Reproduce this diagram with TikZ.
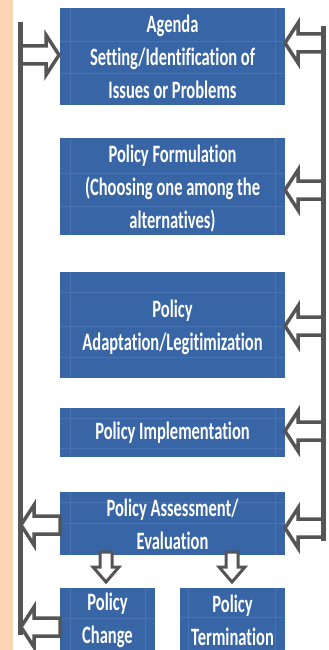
\documentclass[tikz,border=0pt]{standalone}
\usepackage{fontspec}
\setmainfont{Carlito}[FakeStretch=0.66, Ligatures={NoCommon}]
\definecolor{boxblue}{RGB}{56,101,166}
\definecolor{gridblue}{RGB}{72,114,176}
\definecolor{arrgray}{RGB}{85,85,85}
\definecolor{peach}{RGB}{252,213,181}
\tikzset{
  stagebox/.style={fill=none, draw=none, text=white, align=center,
    font=\fontsize{25}{33}\selectfont\bfseries, inner sep=0pt},
  blockarrow/.style={draw=arrgray, fill=white, line width=3.5pt, line join=miter},
  vline/.style={draw=arrgray, line width=5pt},
  gridline/.style={draw=gridblue, line width=0.8pt}
}
\newcommand\harrow[4]{% tip x, tip y, length, direction (1 = points right, -1 = points left)
  \begin{scope}[shift={(#1,#2)},xscale=#4]
    \draw[blockarrow] (0,0) -- (-13,-20) -- (-13,-9) -- (-#3,-9) -- (-#3,9) -- (-13,9) -- (-13,20) -- cycle;
  \end{scope}}
\newcommand\varrow[2]{% tip x, tip y, pointing down
  \begin{scope}[shift={(#1,#2)}]
    \draw[blockarrow, line width=3pt] (0,0) -- (-13,-15) -- (-6,-15) -- (-6,-30) -- (6,-30) -- (6,-15) -- (13,-15) -- cycle;
  \end{scope}}
\begin{document}
\begin{tikzpicture}[x=1pt,y=-1pt]
\useasboundingbox (0,0) rectangle (329,650);
\fill[white] (0,0) rectangle (329,650);
\fill[peach] (0,0) rectangle (13,650);

% stage boxes
\fill[boxblue] (60,8) rectangle (285,105);
\fill[boxblue] (60,138) rectangle (285,235);
\fill[boxblue] (60,272) rectangle (285,378);
\fill[boxblue] (60,408) rectangle (285,457);
\fill[boxblue] (60,492) rectangle (285,555);
\fill[boxblue] (60,588) rectangle (155,650);
\fill[boxblue] (180,588) rectangle (285,650);

% faint inner grid lines
\foreach \ya/\yb in {8/105,138/235,272/378,408/457,492/555}{
  \draw[gridline] (70,\ya) -- (70,\yb);
  \draw[gridline] (275,\ya) -- (275,\yb);
}
\draw[gridline] (60,41) -- (285,41) (60,73) -- (285,73);
\draw[gridline] (60,173) -- (285,173) (60,206) -- (285,206);
\draw[gridline] (60,292) -- (285,292) (60,326) -- (285,326) (60,357) -- (285,357);
\draw[gridline] (60,418) -- (285,418) (60,448) -- (285,448);
\draw[gridline] (60,502) -- (285,502) (60,523) -- (285,523);
\draw[gridline] (70,588) -- (70,650) (145,588) -- (145,650) (60,618) -- (155,618);
\draw[gridline] (188,588) -- (188,650) (275,588) -- (275,650) (180,617) -- (285,617);

\node[stagebox] (agenda) at (172.5,57)
  {Agenda\\Setting/Identification of\\Issues or Problems};
\node[stagebox] (form) at (172.5,189)
  {Policy Formulation\\(Choosing one among the\\alternatives)};
\node[stagebox] (adapt) at (172.5,327)
  {Policy\\Adaptation/Legitimization};
\node[stagebox] (impl) at (172.5,433)
  {Policy Implementation};
\node[stagebox] (assess) at (172.5,524)
  {Policy Assessment/\\Evaluation};
\node[stagebox] (change) at (107.5,620)
  {Policy\\Change};
\node[stagebox] (term) at (232.5,620)
  {Policy\\Termination};

% right side feedback arrows
\harrow{285}{43}{38}{-1}
\harrow{285}{190}{38}{-1}
\harrow{285}{326}{38}{-1}
\harrow{285}{431}{38}{-1}
\harrow{285}{528}{38}{-1}

% left side arrows
\harrow{59}{55}{39}{1}
\harrow{21}{525}{39}{-1}
\harrow{21}{627}{39}{-1}

% down arrows from assessment
\varrow{106}{582}
\varrow{232}{582}

% vertical lines
\coordinate (ltop) at (20,22);
\coordinate (lbot) at (20,635);
\coordinate (rtop) at (323,26);
\coordinate (rbot) at (323,541);
\draw[vline] (ltop) -- (lbot);
\draw[vline] (rtop) -- (rbot);
\end{tikzpicture}
\end{document}
